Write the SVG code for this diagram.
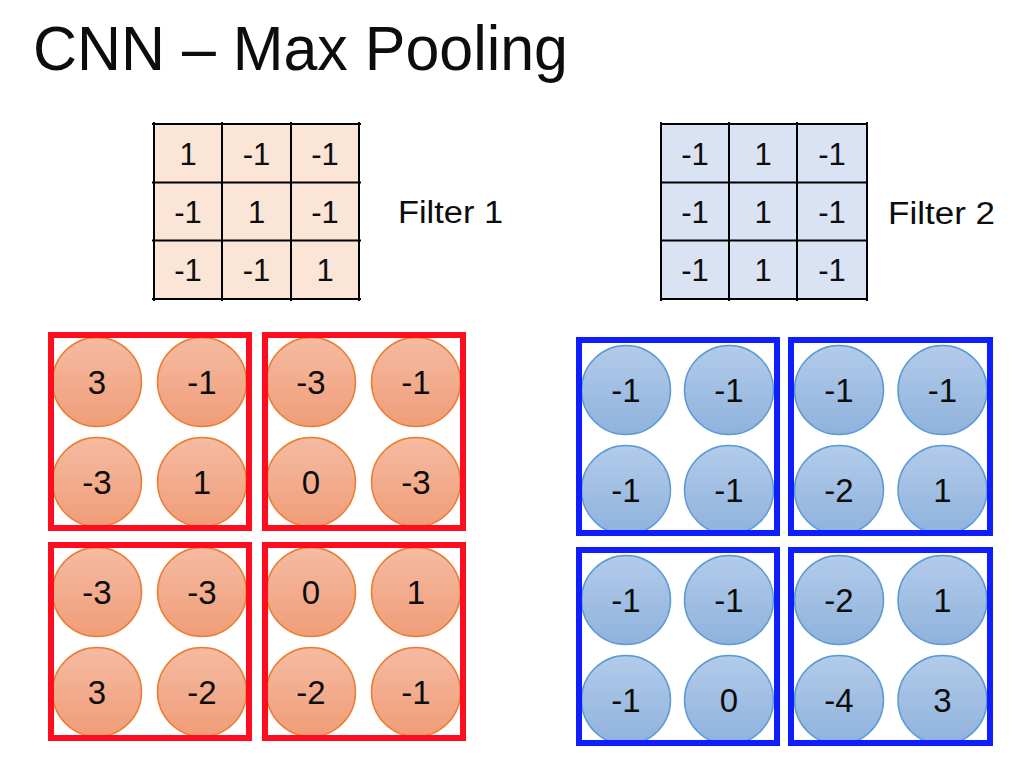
<svg xmlns="http://www.w3.org/2000/svg" width="1020" height="772" viewBox="0 0 1020 772">
<defs>
<linearGradient id="gO" x1="0" y1="0" x2="0" y2="1"><stop offset="0" stop-color="#F5BBA2"/><stop offset="1" stop-color="#F09D78"/></linearGradient>
<linearGradient id="gB" x1="0" y1="0" x2="0" y2="1"><stop offset="0" stop-color="#B3CBE9"/><stop offset="1" stop-color="#8FB2DD"/></linearGradient>
<style>
text{font-family:"Liberation Sans",Arial,sans-serif;fill:#0D0D0D;}
.c{text-anchor:middle;font-size:31px;}
.n{text-anchor:middle;font-size:33px;}
.lbl{font-size:31px;}
.grid{stroke:#000;stroke-width:2;fill:none;}
.co{fill:url(#gO);stroke:#ED7D31;stroke-width:1.5;}
.cb{fill:url(#gB);stroke:#5B9BD5;stroke-width:1.5;}
.rb{fill:none;stroke:#FF0C1E;stroke-width:6;}
.bb{fill:none;stroke:#0E1EFF;stroke-width:6;}
</style>
</defs>
<rect width="1020" height="772" fill="#fff"/>
<text id="title" x="33" y="70" font-size="63" textLength="535" lengthAdjust="spacingAndGlyphs">CNN – Max Pooling</text>

<g id="filter1">
<rect x="154" y="124" width="205" height="175" fill="#FBE5D6"/>
<path class="grid" d="M152 124H361M152 182.5H361M152 240.5H361M152 299H361M154 122V301M222 122V301M291 122V301M359 122V301"/>
<text class="c" x="188" y="165">1</text><text class="c" x="256.5" y="165">-1</text><text class="c" x="325" y="165">-1</text>
<text class="c" x="188" y="223">-1</text><text class="c" x="256.5" y="223">1</text><text class="c" x="325" y="223">-1</text>
<text class="c" x="188" y="281">-1</text><text class="c" x="256.5" y="281">-1</text><text class="c" x="325" y="281">1</text>
<text class="lbl" x="398" y="223" textLength="105" lengthAdjust="spacingAndGlyphs">Filter 1</text>
</g>

<g id="filter2">
<rect x="661" y="124" width="206" height="175" fill="#DAE3F3"/>
<path class="grid" d="M661 124H867M661 182.5H867M661 240.5H867M661 299H867M661 122V301M729 122V301M797 122V301M867 122V301"/>
<text class="c" x="695" y="165">-1</text><text class="c" x="763" y="165">1</text><text class="c" x="832" y="165">-1</text>
<text class="c" x="695" y="223">-1</text><text class="c" x="763" y="223">1</text><text class="c" x="832" y="223">-1</text>
<text class="c" x="695" y="281">-1</text><text class="c" x="763" y="281">1</text><text class="c" x="832" y="281">-1</text>
<text class="lbl" x="888" y="224" textLength="107" lengthAdjust="spacingAndGlyphs">Filter 2</text>
</g>

<g id="red-tl">
<circle class="co" cx="97" cy="382" r="44.5"/><circle class="co" cx="202" cy="382" r="44.5"/>
<circle class="co" cx="97" cy="482" r="44.5"/><circle class="co" cx="202" cy="482" r="44.5"/>
<rect class="rb" x="51" y="335" width="198" height="193"/>
<text class="n" x="97" y="394">3</text><text class="n" x="202" y="394">-1</text>
<text class="n" x="97" y="494">-3</text><text class="n" x="202" y="494">1</text>
</g>
<g id="red-tr">
<circle class="co" cx="311" cy="382" r="44.5"/><circle class="co" cx="416" cy="382" r="44.5"/>
<circle class="co" cx="311" cy="482" r="44.5"/><circle class="co" cx="416" cy="482" r="44.5"/>
<rect class="rb" x="265" y="335" width="198" height="193"/>
<text class="n" x="311" y="394">-3</text><text class="n" x="416" y="394">-1</text>
<text class="n" x="311" y="494">0</text><text class="n" x="416" y="494">-3</text>
</g>
<g id="red-bl">
<circle class="co" cx="97" cy="592" r="44.5"/><circle class="co" cx="202" cy="592" r="44.5"/>
<circle class="co" cx="97" cy="692" r="44.5"/><circle class="co" cx="202" cy="692" r="44.5"/>
<rect class="rb" x="51" y="545" width="198" height="193"/>
<text class="n" x="97" y="604">-3</text><text class="n" x="202" y="604">-3</text>
<text class="n" x="97" y="704">3</text><text class="n" x="202" y="704">-2</text>
</g>
<g id="red-br">
<circle class="co" cx="311" cy="592" r="44.5"/><circle class="co" cx="416" cy="592" r="44.5"/>
<circle class="co" cx="311" cy="692" r="44.5"/><circle class="co" cx="416" cy="692" r="44.5"/>
<rect class="rb" x="265" y="545" width="198" height="193"/>
<text class="n" x="311" y="604">0</text><text class="n" x="416" y="604">1</text>
<text class="n" x="311" y="704">-2</text><text class="n" x="416" y="704">-1</text>
</g>

<g id="blue-tl">
<circle class="cb" cx="626" cy="390" r="44.5"/><circle class="cb" cx="729" cy="390" r="44.5"/>
<circle class="cb" cx="626" cy="490" r="44.5"/><circle class="cb" cx="729" cy="490" r="44.5"/>
<rect class="bb" x="579" y="340" width="198" height="193"/>
<text class="n" x="626" y="402">-1</text><text class="n" x="729" y="402">-1</text>
<text class="n" x="626" y="502">-1</text><text class="n" x="729" y="502">-1</text>
</g>
<g id="blue-tr">
<circle class="cb" cx="839" cy="390" r="44.5"/><circle class="cb" cx="942.5" cy="390" r="44.5"/>
<circle class="cb" cx="839" cy="490" r="44.5"/><circle class="cb" cx="942.5" cy="490" r="44.5"/>
<rect class="bb" x="791" y="340" width="199" height="193"/>
<text class="n" x="839" y="402">-1</text><text class="n" x="942.5" y="402">-1</text>
<text class="n" x="839" y="502">-2</text><text class="n" x="942.5" y="502">1</text>
</g>
<g id="blue-bl">
<circle class="cb" cx="626" cy="600" r="44.5"/><circle class="cb" cx="729" cy="600" r="44.5"/>
<circle class="cb" cx="626" cy="700" r="44.5"/><circle class="cb" cx="729" cy="700" r="44.5"/>
<rect class="bb" x="579" y="550" width="198" height="193"/>
<text class="n" x="626" y="612">-1</text><text class="n" x="729" y="612">-1</text>
<text class="n" x="626" y="712">-1</text><text class="n" x="729" y="712">0</text>
</g>
<g id="blue-br">
<circle class="cb" cx="839" cy="600" r="44.5"/><circle class="cb" cx="942.5" cy="600" r="44.5"/>
<circle class="cb" cx="839" cy="700" r="44.5"/><circle class="cb" cx="942.5" cy="700" r="44.5"/>
<rect class="bb" x="791" y="550" width="199" height="193"/>
<text class="n" x="839" y="612">-2</text><text class="n" x="942.5" y="612">1</text>
<text class="n" x="839" y="712">-4</text><text class="n" x="942.5" y="712">3</text>
</g>
<g id="connectors"/>
</svg>
